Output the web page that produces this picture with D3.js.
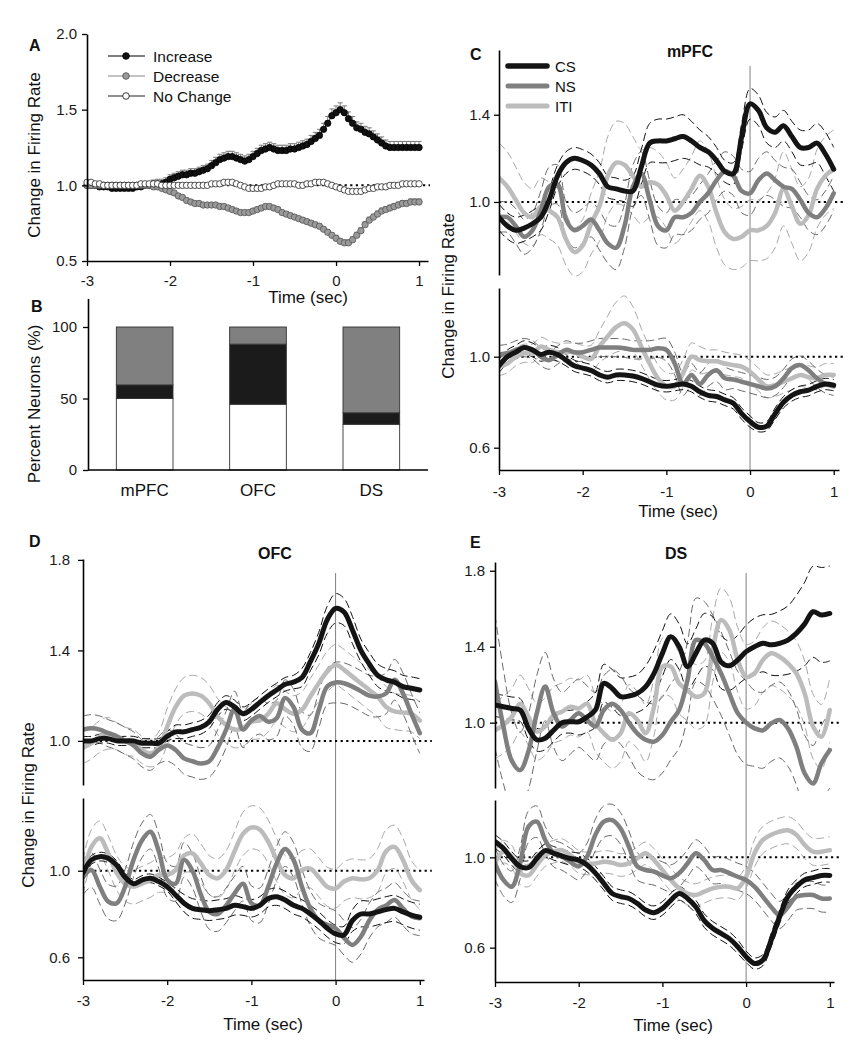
<!DOCTYPE html>
<html><head><meta charset="utf-8">
<script src="https://cdn.jsdelivr.net/npm/d3@7"></script>
<style>
body{margin:0;background:#fff;}
svg{font-family:"Liberation Sans",Arial,Helvetica,sans-serif;}
</style></head><body>
<svg id="chart" width="857" height="1050"></svg>
<script>
// ---------------- DATA ----------------
const timeTicks = [-3, -2, -1, 0, 1];

// Panel A
const timeA = [-3,-2.95,-2.9,-2.85,-2.8,-2.75,-2.7,-2.65,-2.6,-2.55,-2.5,-2.45,-2.4,-2.35,-2.3,-2.25,-2.2,-2.15,-2.1,-2.05,-2,-1.95,-1.9,-1.85,-1.8,-1.75,-1.7,-1.65,-1.6,-1.55,-1.5,-1.45,-1.4,-1.35,-1.3,-1.25,-1.2,-1.15,-1.1,-1.05,-1,-0.95,-0.9,-0.85,-0.8,-0.75,-0.7,-0.65,-0.6,-0.55,-0.5,-0.45,-0.4,-0.35,-0.3,-0.25,-0.2,-0.15,-0.1,-0.05,0,0.05,0.1,0.15,0.2,0.25,0.3,0.35,0.4,0.45,0.5,0.55,0.6,0.65,0.7,0.75,0.8,0.85,0.9,0.95,1];
const increaseA = [1.00,1.00,1.00,0.99,0.99,0.99,0.98,0.98,0.98,0.98,
 0.98,0.98,0.99,0.99,1.00,1.00,1.01,1.01,1.01,1.02,
 1.04,1.05,1.06,1.07,1.07,1.08,1.08,1.09,1.10,1.11,
 1.13,1.15,1.17,1.18,1.19,1.19,1.18,1.17,1.16,1.17,
 1.19,1.21,1.23,1.24,1.25,1.24,1.23,1.23,1.23,1.24,
 1.24,1.25,1.26,1.27,1.29,1.31,1.33,1.37,1.41,1.46,
 1.48,1.50,1.48,1.44,1.41,1.38,1.37,1.35,1.34,1.32,
 1.30,1.28,1.26,1.25,1.25,1.25,1.25,1.25,1.25,1.25,
 1.25];
const decreaseA = [1.00,1.00,1.00,1.00,1.00,1.00,1.00,1.00,1.00,1.00,
 1.00,1.00,1.00,1.00,1.00,1.00,0.99,0.99,0.98,0.97,
 0.96,0.95,0.93,0.92,0.90,0.89,0.88,0.88,0.87,0.87,
 0.87,0.87,0.86,0.86,0.85,0.84,0.83,0.82,0.82,0.82,
 0.83,0.84,0.85,0.86,0.86,0.85,0.84,0.82,0.81,0.80,
 0.79,0.78,0.77,0.76,0.75,0.74,0.73,0.71,0.69,0.67,
 0.65,0.63,0.62,0.62,0.64,0.67,0.70,0.74,0.77,0.79,
 0.81,0.83,0.84,0.85,0.86,0.87,0.88,0.88,0.89,0.89,
 0.89];
const noChangeA = [1.02,1.02,1.01,1.01,1.00,1.00,1.00,1.00,1.00,1.00,
 1.00,1.00,1.00,1.01,1.01,1.01,1.01,1.01,1.00,1.00,
 1.00,1.00,1.00,1.00,1.00,1.00,1.00,1.00,1.00,1.00,
 1.01,1.01,1.01,1.02,1.02,1.02,1.01,1.00,0.99,0.98,
 0.98,0.98,0.98,0.99,0.99,1.00,1.01,1.01,1.01,1.01,
 1.01,1.00,1.00,1.01,1.01,1.02,1.02,1.02,1.01,1.00,
 0.99,0.98,0.97,0.96,0.96,0.96,0.96,0.97,0.98,0.98,
 0.99,0.99,0.99,1.00,1.00,1.00,1.01,1.01,1.01,1.01,
 1.01];
const errIncreaseA = [0.02,0.02,0.02,0.02,0.02,0.02,0.02,0.02,0.02,0.02,
 0.02,0.02,0.02,0.02,0.025,0.025,0.025,0.03,0.03,0.03,
 0.03,0.03,0.03,0.03,0.03,0.03,0.03,0.03,0.03,0.03,
 0.035,0.035,0.035,0.035,0.035,0.035,0.035,0.035,0.035,0.035,
 0.035,0.035,0.035,0.035,0.035,0.035,0.035,0.035,0.035,0.035,
 0.035,0.035,0.035,0.035,0.04,0.04,0.04,0.04,0.045,0.045,
 0.045,0.045,0.045,0.045,0.045,0.04,0.04,0.04,0.04,0.04,
 0.04,0.04,0.04,0.04,0.04,0.04,0.04,0.04,0.04,0.04,
 0.04];
const errDecreaseA = [0.01,0.01,0.01,0.01,0.01,0.01,0.01,0.01,0.01,0.01,
 0.01,0.01,0.01,0.01,0.01,0.01,0.01,0.01,0.01,0.01,
 0.015,0.015,0.015,0.015,0.015,0.015,0.015,0.015,0.015,0.015,
 0.015,0.015,0.015,0.015,0.015,0.015,0.015,0.015,0.015,0.015,
 0.015,0.015,0.015,0.015,0.015,0.015,0.015,0.015,0.015,0.015,
 0.015,0.015,0.015,0.015,0.015,0.015,0.015,0.015,0.015,0.015,
 0.02,0.02,0.02,0.02,0.02,0.02,0.02,0.02,0.02,0.02,
 0.02,0.02,0.02,0.02,0.02,0.02,0.02,0.02,0.02,0.02,
 0.02];
const legendA = ["Increase", "Decrease", "No Change"];
const ticksA = [0.5, 1.0, 1.5, 2.0];

// Panel B
const regionsB = ["mPFC", "OFC", "DS"];
const noChangeB = [50, 46, 32];
const increaseB = [9.5, 42, 8];
const decreaseB = [40.5, 12, 60];
const ticksB = [0, 50, 100];

// Panels C-E (time grid, 0.1 s)
const time = [-3,-2.9,-2.8,-2.7,-2.6,-2.5,-2.4,-2.3,-2.2,-2.1,-2,-1.9,-1.8,-1.7,-1.6,-1.5,-1.4,-1.3,-1.2,-1.1,-1,-0.9,-0.8,-0.7,-0.6,-0.5,-0.4,-0.3,-0.2,-0.1,0,0.1,0.2,0.3,0.4,0.5,0.6,0.7,0.8,0.9,1];
const legendC = ["CS", "NS", "ITI"];

// C: mPFC, top (increase neurons)
const cTopCS = [0.93,0.89,0.87,0.88,0.90,0.93,1.01,1.12,1.18,1.20,1.19,1.17,1.13,1.07,1.06,1.05,1.05,1.16,1.27,1.28,1.28,1.29,1.30,1.28,1.25,1.23,1.19,1.14,1.13,1.30,1.45,1.42,1.34,1.32,1.35,1.30,1.25,1.25,1.27,1.22,1.15];
const cTopNS = [0.93,0.93,0.89,0.84,0.87,0.96,1.07,1.08,0.92,0.87,0.89,0.92,0.87,0.81,0.79,0.89,1.07,1.13,1.01,0.89,0.87,0.93,0.93,0.95,1.00,1.04,1.10,1.14,1.12,1.05,1.04,1.10,1.13,1.10,1.07,1.06,1.01,0.95,0.93,0.97,1.04];
const cTopITI = [1.11,1.07,1.01,0.95,0.93,0.98,0.96,0.93,0.83,0.77,0.80,0.90,0.98,1.12,1.18,1.17,1.12,1.07,1.09,1.08,1.03,0.96,1.00,1.06,1.12,1.07,0.95,0.86,0.83,0.84,0.87,0.87,0.89,0.95,1.06,0.98,0.90,0.94,1.06,1.12,1.15];
const cTopCSsem = [0.06,0.06,0.06,0.06,0.06,0.06,0.05,0.05,0.05,0.05,0.05,0.05,0.05,0.05,0.05,0.05,0.07,0.08,0.09,0.1,0.1,0.1,0.1,0.09,0.08,0.07,0.06,0.05,0.05,0.06,0.07,0.07,0.07,0.07,0.07,0.07,0.08,0.08,0.09,0.1,0.1];
const cTopNSsem = [0.07,0.07,0.08,0.08,0.08,0.09,0.09,0.09,0.08,0.08,0.08,0.08,0.09,0.09,0.1,0.1,0.1,0.1,0.09,0.09,0.08,0.08,0.08,0.08,0.08,0.09,0.09,0.09,0.09,0.1,0.1,0.1,0.1,0.09,0.09,0.09,0.08,0.08,0.08,0.08,0.08];
const cTopITIsem = [0.16,0.16,0.15,0.14,0.13,0.13,0.13,0.13,0.12,0.11,0.12,0.14,0.16,0.18,0.19,0.19,0.18,0.17,0.16,0.15,0.15,0.15,0.15,0.15,0.16,0.16,0.16,0.15,0.14,0.14,0.14,0.14,0.15,0.16,0.17,0.17,0.17,0.17,0.18,0.18,0.18];

// C: mPFC, bottom (decrease neurons)
const cBotCS = [0.96,1.00,1.02,1.04,1.03,1.01,1.02,1.01,0.985,0.96,0.95,0.94,0.92,0.91,0.92,0.92,0.915,0.905,0.89,0.875,0.87,0.875,0.88,0.87,0.846,0.83,0.825,0.81,0.795,0.75,0.715,0.69,0.695,0.75,0.80,0.83,0.846,0.853,0.87,0.88,0.875];
const cBotNS = [1.01,1.015,1.03,1.04,1.03,1.0,0.985,1.007,1.03,1.02,1.02,1.03,1.04,1.04,1.04,1.037,1.03,1.03,1.03,1.037,1.03,0.97,0.88,0.92,0.88,0.92,0.94,0.905,0.90,0.89,0.88,0.87,0.86,0.87,0.905,0.95,0.963,0.94,0.905,0.88,0.87];
const cBotITI = [0.956,0.97,1.0,1.015,1.015,1.045,1.03,1.02,1.02,1.02,1.0,0.99,1.045,1.09,1.13,1.147,1.12,1.045,0.97,0.905,0.87,0.87,0.927,1.0,0.985,0.98,0.98,0.97,0.963,0.956,0.934,0.90,0.87,0.875,0.89,0.905,0.92,0.91,0.905,0.92,0.92];
const cBotCSsem = [0.03,0.03,0.03,0.03,0.03,0.03,0.03,0.03,0.025,0.025,0.025,0.025,0.025,0.025,0.025,0.025,0.025,0.025,0.025,0.025,0.025,0.025,0.025,0.025,0.025,0.025,0.025,0.025,0.025,0.025,0.025,0.02,0.02,0.025,0.025,0.025,0.025,0.025,0.025,0.025,0.025];
const cBotNSsem = [0.04,0.04,0.04,0.04,0.04,0.04,0.04,0.04,0.04,0.04,0.04,0.04,0.04,0.04,0.04,0.04,0.04,0.04,0.04,0.04,0.05,0.05,0.05,0.05,0.05,0.05,0.05,0.05,0.04,0.04,0.04,0.04,0.04,0.04,0.04,0.04,0.04,0.04,0.04,0.04,0.04];
const cBotITIsem = [0.04,0.04,0.04,0.04,0.04,0.04,0.04,0.04,0.04,0.04,0.05,0.06,0.07,0.09,0.11,0.12,0.1,0.08,0.07,0.06,0.06,0.06,0.06,0.06,0.06,0.05,0.05,0.05,0.05,0.05,0.05,0.05,0.05,0.05,0.05,0.05,0.05,0.05,0.05,0.05,0.05];

// D: OFC, top
const dTopCS = [1.0,1.0,1.01,1.01,1.0,1.0,1.0,0.99,0.99,0.99,1.02,1.04,1.04,1.05,1.06,1.085,1.14,1.17,1.15,1.12,1.14,1.17,1.20,1.225,1.25,1.26,1.28,1.35,1.43,1.535,1.586,1.57,1.49,1.40,1.34,1.29,1.27,1.26,1.24,1.233,1.225];
const dTopNS = [1.05,1.056,1.05,1.034,1.02,1.0,0.98,0.945,0.93,0.96,0.98,0.96,0.923,0.91,0.90,0.91,0.97,1.05,1.14,1.05,1.09,1.11,1.085,1.10,1.19,1.15,1.05,1.034,1.137,1.24,1.258,1.255,1.24,1.22,1.20,1.196,1.21,1.27,1.21,1.12,1.034];
const dTopITI = [0.97,0.99,1.02,1.034,1.02,1.0,0.99,0.96,0.945,0.97,1.063,1.15,1.20,1.21,1.20,1.166,1.107,1.07,1.05,1.056,1.085,1.09,1.12,1.166,1.14,1.12,1.137,1.196,1.255,1.306,1.336,1.314,1.284,1.255,1.225,1.196,1.15,1.13,1.125,1.12,1.09];
const dTopCSsem = [0.02,0.02,0.02,0.02,0.02,0.02,0.02,0.02,0.02,0.02,0.02,0.03,0.03,0.03,0.03,0.03,0.03,0.03,0.03,0.03,0.03,0.03,0.03,0.03,0.03,0.03,0.04,0.04,0.05,0.06,0.065,0.06,0.06,0.05,0.05,0.05,0.05,0.05,0.05,0.05,0.05];
const dTopNSsem = [0.06,0.06,0.06,0.06,0.06,0.06,0.06,0.06,0.06,0.06,0.07,0.07,0.07,0.07,0.07,0.07,0.08,0.08,0.08,0.08,0.08,0.08,0.08,0.08,0.08,0.08,0.08,0.08,0.08,0.08,0.09,0.09,0.09,0.09,0.09,0.09,0.09,0.09,0.09,0.09,0.09];
const dTopITIsem = [0.07,0.07,0.07,0.07,0.06,0.06,0.06,0.06,0.06,0.07,0.08,0.08,0.08,0.08,0.08,0.08,0.08,0.08,0.08,0.08,0.08,0.08,0.08,0.08,0.08,0.08,0.08,0.08,0.08,0.09,0.09,0.09,0.09,0.09,0.09,0.09,0.09,0.08,0.08,0.08,0.08];

// D: OFC, bottom
const dBotCS = [0.99,1.05,1.065,1.057,1.026,0.97,0.94,0.957,0.965,0.95,0.926,0.888,0.85,0.826,0.82,0.815,0.82,0.826,0.84,0.834,0.826,0.84,0.872,0.88,0.865,0.84,0.826,0.80,0.77,0.734,0.708,0.703,0.77,0.80,0.80,0.81,0.82,0.826,0.81,0.795,0.785];
const dBotNS = [0.97,1.003,0.926,0.857,0.85,0.926,1.05,1.14,1.18,1.09,0.957,0.94,1.05,1.0,0.89,0.81,0.80,0.84,0.895,0.94,0.85,0.84,0.926,1.034,1.10,1.05,0.926,0.826,0.77,0.75,0.734,0.69,0.657,0.695,0.77,0.82,0.84,0.865,0.826,0.79,0.78];
const dBotITI = [0.97,1.11,1.15,1.08,0.99,0.94,0.926,0.94,0.957,0.98,0.98,1.003,1.07,1.08,1.034,0.98,0.965,1.003,1.09,1.17,1.20,1.19,1.134,1.05,0.98,0.965,1.003,1.01,0.97,0.926,0.918,0.95,0.965,0.96,0.965,1.003,1.09,1.11,1.05,0.957,0.91];
const dBotCSsem = [0.02,0.02,0.02,0.02,0.02,0.02,0.02,0.02,0.02,0.02,0.02,0.03,0.04,0.045,0.045,0.045,0.045,0.045,0.045,0.04,0.04,0.04,0.04,0.04,0.04,0.04,0.04,0.04,0.04,0.04,0.04,0.04,0.05,0.06,0.06,0.06,0.06,0.06,0.06,0.06,0.06];
const dBotNSsem = [0.08,0.08,0.08,0.08,0.08,0.08,0.08,0.08,0.08,0.08,0.08,0.08,0.08,0.08,0.08,0.08,0.08,0.08,0.08,0.08,0.08,0.08,0.08,0.08,0.08,0.08,0.08,0.08,0.08,0.08,0.08,0.08,0.08,0.08,0.08,0.08,0.08,0.08,0.08,0.08,0.08];
const dBotITIsem = [0.08,0.08,0.08,0.08,0.08,0.08,0.08,0.08,0.08,0.08,0.08,0.08,0.08,0.09,0.09,0.09,0.09,0.09,0.09,0.1,0.1,0.1,0.1,0.1,0.09,0.09,0.09,0.09,0.09,0.09,0.09,0.09,0.09,0.09,0.09,0.1,0.1,0.1,0.1,0.09,0.09];

// E: DS, top
const eTopCS = [1.093,1.084,1.075,1.067,0.97,0.91,0.918,0.96,1.0,1.005,1.005,1.03,1.067,1.207,1.18,1.137,1.14,1.154,1.19,1.26,1.365,1.453,1.40,1.295,1.365,1.435,1.418,1.32,1.30,1.33,1.374,1.40,1.418,1.41,1.418,1.435,1.47,1.52,1.584,1.567,1.575];
const eTopNS = [1.216,0.98,0.80,0.75,0.85,1.05,1.19,1.05,0.98,1.014,1.05,1.014,0.98,1.067,1.10,1.067,1.0,0.944,0.91,0.90,0.935,1.005,1.067,1.225,1.435,1.418,1.347,1.26,1.154,1.05,1.0,0.97,0.96,0.996,1.014,0.97,0.874,0.733,0.68,0.786,0.856];
const eTopITI = [0.96,0.988,1.03,1.10,1.03,0.953,0.98,1.04,1.058,1.084,1.075,1.10,0.996,0.944,0.91,0.944,1.05,1.014,0.944,1.084,1.295,1.295,1.207,1.17,1.137,1.154,1.382,1.54,1.488,1.33,1.242,1.26,1.33,1.365,1.347,1.312,1.26,1.154,0.98,0.926,1.067];
const eTopCSsem = [0.06,0.06,0.06,0.06,0.06,0.06,0.06,0.06,0.06,0.06,0.07,0.08,0.09,0.1,0.1,0.1,0.1,0.1,0.11,0.12,0.12,0.12,0.12,0.12,0.13,0.14,0.14,0.14,0.13,0.13,0.14,0.15,0.15,0.16,0.17,0.18,0.2,0.22,0.24,0.25,0.25];
const eTopNSsem = [0.35,0.3,0.25,0.2,0.2,0.2,0.18,0.18,0.18,0.18,0.18,0.18,0.18,0.18,0.18,0.18,0.18,0.2,0.2,0.2,0.2,0.2,0.2,0.2,0.22,0.22,0.22,0.22,0.22,0.22,0.22,0.2,0.2,0.2,0.2,0.2,0.2,0.2,0.2,0.2,0.2];
const eTopITIsem = [0.15,0.15,0.15,0.15,0.15,0.15,0.15,0.15,0.15,0.15,0.15,0.15,0.15,0.15,0.15,0.15,0.15,0.15,0.15,0.15,0.15,0.16,0.16,0.16,0.17,0.17,0.17,0.17,0.17,0.17,0.17,0.17,0.17,0.17,0.17,0.17,0.17,0.17,0.17,0.17,0.17];

// E: DS, bottom
const eBotCS = [1.07,1.04,0.995,0.96,0.955,0.995,1.03,1.018,1.006,0.995,0.988,0.966,0.93,0.885,0.84,0.826,0.818,0.796,0.767,0.755,0.774,0.81,0.84,0.818,0.78,0.72,0.686,0.663,0.64,0.604,0.56,0.53,0.545,0.634,0.737,0.826,0.87,0.90,0.91,0.92,0.92];
const eBotNS = [0.973,0.90,0.87,0.973,1.136,1.158,1.077,1.018,1.003,0.98,0.96,1.003,1.10,1.158,1.165,1.128,1.047,0.96,0.944,0.937,0.92,0.907,0.93,0.973,1.018,0.988,0.944,0.944,0.93,0.914,0.90,0.87,0.826,0.78,0.745,0.78,0.826,0.833,0.833,0.818,0.818];
const eBotITI = [0.973,1.025,1.003,0.93,0.92,0.966,1.01,1.025,1.032,1.01,0.98,0.973,0.973,0.98,0.976,0.966,0.973,0.996,1.018,0.988,0.944,0.90,0.863,0.84,0.833,0.848,0.863,0.87,0.87,0.863,0.914,1.018,1.077,1.10,1.114,1.12,1.10,1.055,1.025,1.025,1.032];
const eBotCSsem = [0.03,0.03,0.03,0.03,0.03,0.03,0.03,0.03,0.03,0.03,0.03,0.03,0.03,0.03,0.03,0.03,0.03,0.03,0.03,0.03,0.03,0.03,0.03,0.03,0.03,0.03,0.03,0.03,0.03,0.03,0.025,0.025,0.025,0.03,0.03,0.03,0.03,0.03,0.03,0.03,0.03];
const eBotNSsem = [0.07,0.07,0.07,0.07,0.07,0.07,0.06,0.06,0.06,0.06,0.06,0.06,0.07,0.07,0.07,0.07,0.07,0.06,0.06,0.06,0.06,0.06,0.06,0.06,0.06,0.06,0.06,0.06,0.06,0.06,0.06,0.06,0.06,0.06,0.06,0.06,0.06,0.06,0.06,0.06,0.06];
const eBotITIsem = [0.05,0.05,0.05,0.05,0.05,0.05,0.05,0.05,0.05,0.05,0.05,0.05,0.05,0.05,0.05,0.05,0.05,0.05,0.05,0.05,0.05,0.05,0.05,0.05,0.05,0.05,0.05,0.05,0.05,0.05,0.05,0.06,0.06,0.06,0.06,0.06,0.06,0.06,0.06,0.06,0.06];

// ---------------- DRAWING ----------------
const svg = d3.select("#chart");
const FONT = "'Liberation Sans', Arial, Helvetica, sans-serif";
const fmt1 = d3.format(".1f");
const fmtInt = d => String(d);
const COL = { CS: "#141414", NS: "#7f7f7f", ITI: "#bcbcbc" };
const DASHCOL = { CS: "#111", NS: "#6a6a6a", ITI: "#a8a8a8" };
const WID = { CS: 5, NS: 4.5, ITI: 4.5 };

function styleAxis(g) {
  g.selectAll("path.domain").attr("stroke", "#000").attr("stroke-width", 1.6);
  g.selectAll(".tick line").attr("stroke", "#000").attr("stroke-width", 1.3);
  g.selectAll(".tick text").attr("font-size", 15).attr("font-family", FONT).attr("fill", "#1a1a1a");
}
function text(x, y, s, opts = {}) {
  const t = svg.append("text").attr("x", x).attr("y", y).text(s)
    .attr("font-family", FONT).attr("font-size", opts.size || 15)
    .attr("font-weight", opts.bold ? "bold" : "normal")
    .attr("fill", opts.fill || "#111")
    .attr("text-anchor", opts.anchor || "start");
  if (opts.rotate) t.attr("transform", `rotate(-90,${x},${y})`);
  return t;
}

// ---- Panel A ----
(function () {
  const x = d3.scaleLinear().domain([-3, 1.108]).range([87, 428]);
  const y = d3.scaleLinear().domain([0.5, 2.0]).range([261, 34]);
  const g = svg.append("g");
  g.append("line").attr("x1", x(-3)).attr("x2", 430).attr("y1", y(1)).attr("y2", y(1))
    .attr("stroke", "#000").attr("stroke-width", 2).attr("stroke-dasharray", "2.2,3.4");
  const series = [
    { v: increaseA, err: errIncreaseA, fill: "#111", stroke: "#000", line: "#000", errCol: "#7a7a7a" },
    { v: decreaseA, err: errDecreaseA, fill: "#9a9a9a", stroke: "#555", line: "#888", errCol: "#888" },
    { v: noChangeA, err: null, fill: "#fff", stroke: "#222", line: "#222", errCol: null }
  ];
  series.forEach(s => {
    if (s.err) {
      const eb = g.append("g").attr("stroke", s.errCol).attr("stroke-width", 1);
      timeA.forEach((t, i) => {
        const y0 = y(s.v[i]), y1 = y(s.v[i] + s.err[i]);
        eb.append("line").attr("x1", x(t)).attr("x2", x(t)).attr("y1", y0).attr("y2", y1);
        eb.append("line").attr("x1", x(t) - 2.5).attr("x2", x(t) + 2.5).attr("y1", y1).attr("y2", y1);
      });
    }
  });
  series.forEach(s => {
    g.append("path").attr("d", d3.line().x((d, i) => x(timeA[i])).y(d => y(d))(s.v))
      .attr("fill", "none").attr("stroke", s.line).attr("stroke-width", 1);
    g.selectAll(null).data(s.v).enter().append("circle")
      .attr("cx", (d, i) => x(timeA[i])).attr("cy", d => y(d)).attr("r", 3.2)
      .attr("fill", s.fill).attr("stroke", s.stroke).attr("stroke-width", 0.8);
  });
  g.append("g").attr("transform", "translate(0,261)")
    .call(d3.axisBottom(x).tickValues(timeTicks).tickFormat(fmtInt).tickSize(5).tickSizeOuter(0).tickPadding(9)).call(styleAxis);
  g.append("g").attr("transform", "translate(87,0)")
    .call(d3.axisLeft(y).tickValues(ticksA).tickFormat(fmt1).tickSize(5).tickSizeOuter(0).tickPadding(5)).call(styleAxis);
  series.forEach((s, k) => {
    const ly = 56 + k * 20;
    g.append("line").attr("x1", 108).attr("x2", 145).attr("y1", ly).attr("y2", ly).attr("stroke", s.line).attr("stroke-width", 1.2);
    g.append("circle").attr("cx", 126).attr("cy", ly).attr("r", 3.3).attr("fill", s.fill).attr("stroke", s.stroke).attr("stroke-width", 0.9);
    text(153, ly + 5.5, legendA[k], { size: 15.5 });
  });
  text(29, 51, "A", { size: 16, bold: true });
  text(40, 155, "Change in Firing Rate", { size: 17, anchor: "middle", rotate: true });
  text(308, 303, "Time (sec)", { size: 17, anchor: "middle" });
})();

// ---- Panel B ----
(function () {
  const x = d3.scaleBand().domain(regionsB).range([88, 428]).paddingInner(0.5).paddingOuter(0.25);
  const y = d3.scaleLinear().domain([0, 120]).range([470, 298.4]);
  const g = svg.append("g");
  const layers = [
    { v: noChangeB, fill: "#ffffff" },
    { v: increaseB, fill: "#1b1b1b" },
    { v: decreaseB, fill: "#808080" }
  ];
  regionsB.forEach((r, i) => {
    let base = 0;
    layers.forEach(L => {
      const top = base + L.v[i];
      g.append("rect").attr("x", x(r)).attr("width", x.bandwidth())
        .attr("y", y(top)).attr("height", y(base) - y(top))
        .attr("fill", L.fill).attr("stroke", "#333").attr("stroke-width", 0.9);
      base = top;
    });
    text(x(r) + x.bandwidth() / 2, 496, r, { size: 17, anchor: "middle" });
  });
  g.append("line").attr("x1", 88).attr("x2", 428).attr("y1", 470).attr("y2", 470).attr("stroke", "#000").attr("stroke-width", 1.6);
  g.append("g").attr("transform", "translate(88,0)")
    .call(d3.axisLeft(y).tickValues(ticksB).tickFormat(fmtInt).tickSize(5).tickSizeOuter(0).tickPadding(6)).call(styleAxis);
  text(31, 312, "B", { size: 16, bold: true });
  text(40, 404, "Percent Neurons (%)", { size: 17, anchor: "middle", rotate: true });
})();

// ---- Panels C, D, E ----
function drawTracePanel(cfg) {
  const g = svg.append("g");
  const x = d3.scaleLinear().domain([-3, cfg.xMax]).range([cfg.x0, cfg.x1]);
  g.append("line").attr("x1", x(0)).attr("x2", x(0)).attr("y1", cfg.zeroTop).attr("y2", cfg.bot.range[0])
    .attr("stroke", "#808080").attr("stroke-width", 1);
  [cfg.top, cfg.bot].forEach((p, k) => {
    const y = d3.scaleLinear().domain(p.domain).range(p.range);
    const cid = cfg.id + "clip" + k;
    const clipTop = k === 0 ? p.range[1] - 30 : p.range[1] - 12;
    const clipBot = k === 0 ? p.range[0] + 3 : p.range[0];
    svg.append("clipPath").attr("id", cid).append("rect")
      .attr("x", cfg.x0).attr("width", cfg.x1 - cfg.x0 + 20)
      .attr("y", clipTop).attr("height", clipBot - clipTop);
    const gp = g.append("g").attr("clip-path", `url(#${cid})`);
    gp.append("line").attr("x1", cfg.x0).attr("x2", x(1) + 12).attr("y1", y(1)).attr("y2", y(1))
      .attr("stroke", "#000").attr("stroke-width", 2).attr("stroke-dasharray", "2.2,3.4");
    const line = d3.line().x((d, i) => x(time[i])).y(d => y(d)).curve(d3.curveCatmullRom.alpha(0.5));
    const order = ["ITI", "NS", "CS"];
    order.forEach(key => {
      const s = p.series[key];
      const up = s.mean.map((v, i) => v + s.sem[i]);
      const lo = s.mean.map((v, i) => v - s.sem[i]);
      [up, lo].forEach(arr => gp.append("path").attr("d", line(arr)).attr("fill", "none")
        .attr("stroke", DASHCOL[key]).attr("stroke-width", 1).attr("stroke-dasharray", "8,4"));
    });
    order.forEach(key => {
      gp.append("path").attr("d", line(p.series[key].mean)).attr("fill", "none")
        .attr("stroke", COL[key]).attr("stroke-width", WID[key]).attr("stroke-linejoin", "round").attr("stroke-linecap", "round");
    });
    g.append("g").attr("transform", `translate(${cfg.x0},0)`)
      .call(d3.axisLeft(y).tickValues(p.ticks).tickFormat(fmt1).tickSize(5).tickSizeOuter(0).tickPadding(cfg.yPad)).call(styleAxis);
  });
  g.append("g").attr("transform", `translate(0,${cfg.bot.range[0]})`)
    .call(d3.axisBottom(x).tickValues(timeTicks).tickFormat(fmtInt).tickSize(5).tickSizeOuter(0).tickPadding(cfg.xPad)).call(styleAxis);
  text(cfg.letter[1], cfg.letter[2], cfg.letter[0], { size: 16, bold: true });
  text(cfg.title[1], cfg.title[2], cfg.title[0], { size: 16, bold: true, anchor: "middle" });
  text(cfg.xTitle[0], cfg.xTitle[1], "Time (sec)", { size: 17, anchor: "middle" });
  if (cfg.yTitle) text(cfg.yTitle[0], cfg.yTitle[1], "Change in Firing Rate", { size: 17, anchor: "middle", rotate: true });
}

drawTracePanel({
  id: "C", x0: 499, x1: 839, xMax: 1.063, zeroTop: 66, xPad: 11, yPad: 4,
  top: { domain: [0.665, 1.697], range: [275, 50], ticks: [1.0, 1.4],
    series: { CS: { mean: cTopCS, sem: cTopCSsem }, NS: { mean: cTopNS, sem: cTopNSsem }, ITI: { mean: cTopITI, sem: cTopITIsem } } },
  bot: { domain: [0.502, 1.302], range: [470, 288], ticks: [0.6, 1.0],
    series: { CS: { mean: cBotCS, sem: cBotCSsem }, NS: { mean: cBotNS, sem: cBotNSsem }, ITI: { mean: cBotITI, sem: cBotITIsem } } },
  letter: ["C", 470, 60], title: ["mPFC", 690, 57], xTitle: [678, 517], yTitle: [454, 296]
});
drawTracePanel({
  id: "D", x0: 83, x1: 424, xMax: 1.05, zeroTop: 573, xPad: 10, yPad: 8,
  top: { domain: [0.805, 1.804], range: [785, 559], ticks: [1.0, 1.4, 1.8],
    series: { CS: { mean: dTopCS, sem: dTopCSsem }, NS: { mean: dTopNS, sem: dTopNSsem }, ITI: { mean: dTopITI, sem: dTopITIsem } } },
  bot: { domain: [0.495, 1.336], range: [980, 798], ticks: [0.6, 1.0],
    series: { CS: { mean: dBotCS, sem: dBotCSsem }, NS: { mean: dBotNS, sem: dBotNSsem }, ITI: { mean: dBotITI, sem: dBotITIsem } } },
  letter: ["D", 29, 547], title: ["OFC", 275, 559], xTitle: [263, 1030], yTitle: [34, 805]
});
drawTracePanel({
  id: "E", x0: 495, x1: 834, xMax: 1.05, zeroTop: 573, xPad: 10, yPad: 5,
  top: { domain: [0.656, 1.846], range: [788, 562], ticks: [1.0, 1.4, 1.8],
    series: { CS: { mean: eTopCS, sem: eTopCSsem }, NS: { mean: eTopNS, sem: eTopNSsem }, ITI: { mean: eTopITI, sem: eTopITIsem } } },
  bot: { domain: [0.448, 1.254], range: [982, 800], ticks: [0.6, 1.0],
    series: { CS: { mean: eBotCS, sem: eBotCSsem }, NS: { mean: eBotNS, sem: eBotNSsem }, ITI: { mean: eBotITI, sem: eBotITIsem } } },
  letter: ["E", 470, 548], title: ["DS", 676, 559], xTitle: [673, 1031], yTitle: null
});

legendC.forEach((name, k) => {
  const ly = 66 + k * 20;
  svg.append("line").attr("x1", 508).attr("x2", 547).attr("y1", ly).attr("y2", ly)
    .attr("stroke", COL[name]).attr("stroke-width", WID[name] + 0.5).attr("stroke-linecap", "round");
  text(555, ly + 5.5, name, { size: 15 });
});
</script>
</body></html>
